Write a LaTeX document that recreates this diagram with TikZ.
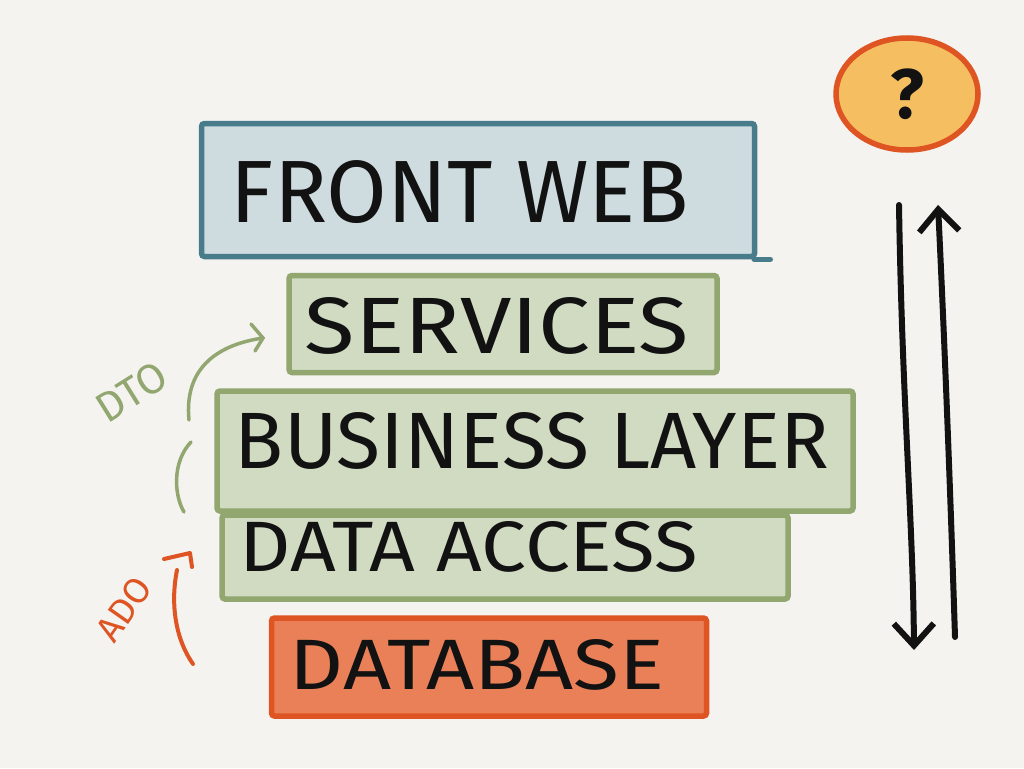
\documentclass[tikz,border=0pt]{standalone}
\usepackage{fontspec}
\setmainfont{Fira Sans}
\usetikzlibrary{arrows.meta,shapes.geometric,calc}
\definecolor{paper}{RGB}{244,243,240}
\definecolor{webblue}{RGB}{72,124,138}
\definecolor{webwash}{RGB}{206,220,224}
\definecolor{layergreen}{RGB}{146,166,112}
\definecolor{layerwash}{RGB}{208,219,194}
\definecolor{dborange}{RGB}{222,84,34}
\definecolor{dbwash}{RGB}{234,128,88}
\definecolor{qyellow}{RGB}{245,190,96}
\definecolor{ink}{RGB}{18,18,18}
% stretch a text to a given width and cap height
\newcommand{\handtext}[3]{\resizebox{#1pt}{#2pt}{#3}}

\begin{document}
\begin{tikzpicture}[x=1pt,y=-1pt,
  layerbox/.style={draw=#1,line width=5.5pt,rounded corners=3pt,inner sep=0pt},
  hand/.style={text=ink,inner sep=0pt,font=\fontsize{60}{60}\selectfont},
  sidenote/.style={inner sep=0pt,font=\fontsize{42}{42}\selectfont},
  flow/.style={ink,line width=6pt,line cap=round,-{Straight Barb[length=22pt,width=40pt,line width=6pt]}},
  dtoline/.style={layergreen,line width=3.5pt,line cap=round},
  adoline/.style={dborange,line width=4pt,line cap=round,line join=round}]
\path[use as bounding box,fill=paper] (0,0) rectangle (1024,768);

% layers
\node[layerbox=webblue,fill=webwash,minimum width=553,minimum height=133] (front) at (478,190) {};
\node[hand] at (460,192) {\handtext{458}{62}{FRONT WEB}};
\draw[webblue,line width=5.5pt,line cap=round] ([xshift=-3pt]front.south east) -- ++(16,0);

\node[layerbox=layergreen,fill=layerwash,minimum width=428,minimum height=97] (services) at (503,324) {};
\node[hand] at (497,326) {\handtext{384}{56}{SERVICES}};

\node[layerbox=layergreen,fill=layerwash,minimum width=636,minimum height=120] (business) at (535,451) {};
\node[hand] at (532,441) {\handtext{594}{56}{BUSINESS LAYER}};

\node[layerbox=layergreen,fill=layerwash,minimum width=566,minimum height=84] (access) at (505,557) {};
\node[hand] at (469,547) {\handtext{458}{50}{DATA ACCESS}};

\node[layerbox=dborange,fill=dbwash,minimum width=435,minimum height=98] (database) at (489,667) {};
\node[hand] at (477,665) {\handtext{374}{50}{DATABASE}};

% question mark
\node[ellipse,draw=dborange,fill=qyellow,line width=5.5pt,minimum width=142,minimum height=112] (ask) at (907,94) {};
\node[hand,font=\fontsize{70}{70}\selectfont\bfseries] at (ask) {?};

% round trip
\coordinate (downtop) at (899,205);
\coordinate (downend) at (914,650);
\coordinate (upfoot) at (955,637);
\coordinate (uptip) at (938,205);
\draw[flow] (downtop) .. controls (902,400) and (913,520) .. (downend);
\draw[flow] (upfoot) .. controls (950,480) and (944,330) .. (uptip);

% DTO
\node[sidenote,text=layergreen,rotate=32] (dto) at (132,392) {DTO};
\coordinate (dtofrom) at (189,420);
\coordinate (dtoto) at (263,338);
\draw[dtoline] (dtofrom) .. controls (184,370) and (215,345) .. (dtoto);
\draw[dtoline] ($(dtoto)+(-12,-14)$) -- (dtoto) -- ++(-8,13);
\coordinate (dtolow) at (191,442);
\draw[dtoline] (dtolow) .. controls (172,462) and (174,495) .. (184,512);

% ADO
\node[sidenote,text=dborange,rotate=55,font=\fontsize{36}{36}\selectfont] (ado) at (124,609) {ADO};
\coordinate (adofrom) at (193,664);
\coordinate (adoto) at (177,570);
\draw[adoline] (adofrom) .. controls (176,640) and (170,605) .. (adoto);
\draw[adoline] (164,559) -- (190,553) -- (192,567);
\end{tikzpicture}
\end{document}
